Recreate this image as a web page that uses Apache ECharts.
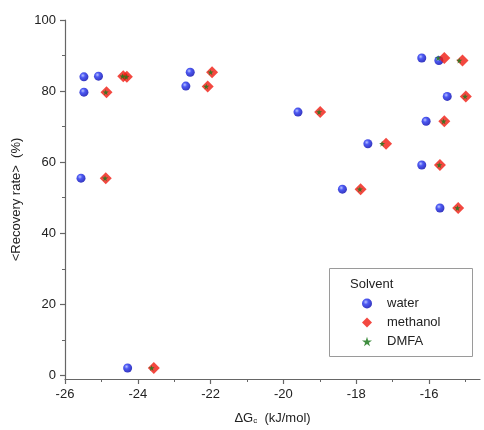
<!DOCTYPE html>
<html>
<head>
<meta charset="utf-8">
<script src="https://cdn.jsdelivr.net/npm/echarts@6/dist/echarts.min.js"></script>
<style>
  html, body { margin: 0; padding: 0; background: #fff; }
  #chart { width: 484px; height: 430px; }
</style>
</head>
<body>
<div id="chart"></div>
<script>
// Recovery rate vs. ΔG for three solvents
const waterX    = [-25.48, -25.08, -25.48, -25.56, -22.56, -22.68, -24.28, -19.60, -17.68, -18.38, -16.20, -15.73, -15.50, -16.08, -16.20, -15.70];
const waterY    = [84.0, 84.2, 79.7, 55.5, 85.3, 81.4, 2.1, 74.1, 65.2, 52.4, 89.3, 88.6, 78.5, 71.5, 59.2, 47.1];
const methanolX = [-24.40, -24.30, -24.86, -24.88, -21.96, -22.08, -23.56, -18.99, -17.18, -17.88, -15.58, -15.08, -14.99, -15.58, -15.70, -15.20];
const methanolY = [84.2, 84.0, 79.7, 55.5, 85.3, 81.3, 2.1, 74.1, 65.2, 52.4, 89.3, 88.6, 78.5, 71.5, 59.2, 47.1];
const dmfaX     = [-24.42, -24.32, -24.88, -24.90, -22.00, -22.12, -23.62, -19.02, -17.29, -17.90, -15.75, -15.17, -15.01, -15.60, -15.72, -15.22];
const dmfaY     = [84.2, 84.0, 79.7, 55.5, 85.3, 81.3, 2.1, 74.1, 65.2, 52.4, 89.3, 88.6, 78.5, 71.5, 59.2, 47.1];

const xTickLabels = [-26, -24, -22, -20, -18, -16];
const xMinorTicks = [-25, -23, -21, -19, -17, -15];
const yTickLabels = [0, 20, 40, 60, 80, 100];
const yMinorTicks = [10, 30, 50, 70, 90];

const pairs = (xs, ys) => xs.map((x, i) => [x, ys[i]]);

const FONT = '"Liberation Sans", Arial, sans-serif';
const AXIS_COLOR = '#666';
const X_MIN = -26, X_MAX = -14.6, Y_MIN = -1, Y_MAX = 100;

const waterStyle = {
  color: {
    type: 'radial', x: 0.38, y: 0.35, r: 0.7,
    colorStops: [
      { offset: 0, color: '#a8b4ff' },
      { offset: 0.35, color: '#2030f0' },
      { offset: 1, color: '#0000a8' }
    ]
  }
};
const starPath = 'path://M50,0 L61,35 L98,35 L68,57 L79,91 L50,70 L21,91 L32,57 L2,35 L39,35 Z';
const diamondPath = 'path://M0,10 L10,0 L20,10 L10,20 Z';

const gridBox = { left: 65, right: 4, top: 20, bottom: 48 };

const chart = echarts.init(document.getElementById('chart'), null, { renderer: 'canvas' });

const majorAxisX = {
  type: 'value', min: X_MIN, max: X_MAX, position: 'bottom',
  axisLine: { show: true, onZero: false, lineStyle: { color: AXIS_COLOR, width: 1.2 } },
  axisTick: { show: true, length: 5, customValues: xTickLabels, lineStyle: { color: AXIS_COLOR, width: 1.2 } },
  axisLabel: { customValues: xTickLabels, margin: 9, color: '#222', fontSize: 13, fontFamily: FONT },
  splitLine: { show: false },
  name: '{a|ΔG}{s|c}{a|  (kJ/mol)}',
  nameLocation: 'middle', nameGap: 32,
  nameTextStyle: {
    rich: {
      a: { fontSize: 13, color: '#222', fontFamily: FONT },
      s: { fontSize: 8, color: '#222', fontFamily: FONT, verticalAlign: 'bottom', padding: [6, 0, 0, 0] }
    }
  }
};
const minorAxisX = {
  type: 'value', min: X_MIN, max: X_MAX, position: 'bottom',
  axisLine: { show: false, onZero: false },
  axisTick: { show: true, length: 3, customValues: xMinorTicks, lineStyle: { color: AXIS_COLOR, width: 1 } },
  axisLabel: { show: false },
  splitLine: { show: false }
};
const majorAxisY = {
  type: 'value', min: Y_MIN, max: Y_MAX, position: 'left',
  axisLine: { show: true, onZero: false, lineStyle: { color: AXIS_COLOR, width: 1.2 } },
  axisTick: { show: true, length: 5, customValues: yTickLabels, lineStyle: { color: AXIS_COLOR, width: 1.2 } },
  axisLabel: { customValues: yTickLabels, margin: 9, color: '#222', fontSize: 13, fontFamily: FONT },
  splitLine: { show: false },
  name: '<Recovery rate>  (%)',
  nameLocation: 'middle', nameGap: 36, nameRotate: 90,
  nameTextStyle: { fontSize: 13, color: '#222', fontFamily: FONT }
};
const minorAxisY = {
  type: 'value', min: Y_MIN, max: Y_MAX, position: 'left',
  axisLine: { show: false, onZero: false },
  axisTick: { show: true, length: 3, customValues: yMinorTicks, lineStyle: { color: AXIS_COLOR, width: 1 } },
  axisLabel: { show: false },
  splitLine: { show: false }
};

chart.setOption({
  backgroundColor: '#fff',
  animation: false,
  grid: gridBox,
  xAxis: [majorAxisX, minorAxisX],
  yAxis: [majorAxisY, minorAxisY],
  graphic: [
    {
      type: 'rect', z: 0, silent: true,
      shape: { x: 329.5, y: 268.5, width: 143, height: 88 },
      style: { fill: '#fff', stroke: '#9a9a9a', lineWidth: 1 }
    },
    {
      type: 'text', z: 1, silent: true, left: 350, top: 278,
      style: { text: 'Solvent', fontSize: 13, fill: '#222', fontFamily: FONT }
    }
  ],
  legend: {
    orient: 'vertical', left: 362, top: 297, z: 10,
    padding: 0, itemGap: 6, itemWidth: 10, itemHeight: 10,
    textStyle: { fontSize: 13, color: '#222', fontFamily: FONT, padding: [0, 0, 0, 10] },
    data: [
      { name: 'water', icon: 'circle', itemStyle: waterStyle },
      { name: 'methanol', icon: diamondPath },
      { name: 'DMFA', icon: starPath, itemStyle: { color: '#1e7a1e' } }
    ],
    selectedMode: false
  },
  series: [
    {
      name: 'water', type: 'scatter', symbol: 'circle', symbolSize: 9,
      itemStyle: waterStyle, z: 2,
      data: pairs(waterX, waterY)
    },
    {
      name: 'methanol', type: 'scatter', symbol: diamondPath, symbolSize: 12,
      itemStyle: { color: '#f01a10' }, z: 3,
      data: pairs(methanolX, methanolY)
    },
    {
      name: 'DMFA', type: 'scatter', symbol: starPath, symbolSize: 6,
      itemStyle: { color: '#1e7a1e', opacity: 0.85 }, z: 4,
      data: pairs(dmfaX, dmfaY)
    }
  ]
});
</script>
</body>
</html>
